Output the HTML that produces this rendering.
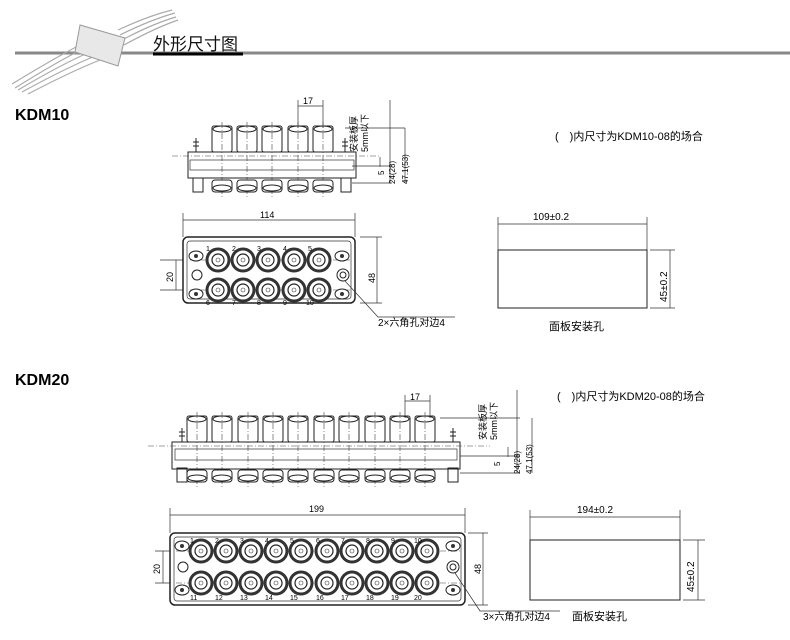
<!DOCTYPE html>
<html><head><meta charset="utf-8"><style>
body{margin:0;background:#fff;}
svg{display:block;font-family:"Liberation Sans","Noto Sans CJK SC",sans-serif;}
.l{stroke:#222;fill:none;stroke-width:1}
.t{stroke:#333;fill:none;stroke-width:.7}
.d{stroke:#444;fill:none;stroke-width:.6;stroke-dasharray:6 2 1 2}
</style></head><body>
<svg width="790" height="640" viewBox="0 0 790 640">
<defs>
<g id="fc"><circle r="11" fill="#fff" stroke="#333" stroke-width="3"/><circle r="6" fill="#fff" stroke="#222" stroke-width="1.2"/><circle r="2" fill="none" stroke="#444" stroke-width=".6"/></g>
<g id="tb"><rect x="-10" y="0" width="20" height="26" rx="2" fill="#fff" stroke="#222"/><ellipse cx="0" cy="3" rx="9" ry="3" fill="none" stroke="#222"/><line x1="0" y1="-4" x2="0" y2="72" class="d"/></g>
<g id="bt"><rect x="-10" y="0" width="20" height="12" rx="3" fill="#fff" stroke="#222"/><ellipse cx="0" cy="8" rx="9" ry="3" fill="none" stroke="#222"/></g>
<g id="sm"><ellipse rx="7" ry="5" fill="#fff" stroke="#222"/><circle r="2" fill="#333"/></g>
</defs>
<!-- header -->
<line x1="15" y1="53" x2="790" y2="53" stroke="#888" stroke-width="3"/>
<g stroke="#aaa" stroke-width="1.2" fill="none">
<path d="M15 88 Q60 60 85 48 M18 90 Q62 64 90 52 M22 92 Q66 68 95 56 M28 94 Q70 72 100 60 M12 84 Q58 56 82 44"/>
<path d="M120 35 Q150 20 175 13 M122 40 Q152 24 176 17 M118 30 Q148 16 172 10 M124 45 Q155 28 178 20"/>
</g>
<polygon points="80,25 125,38 118,66 75,52" fill="#e8e8e8" stroke="#999"/>
<text x="153" y="50" font-size="17" fill="#111">外形尺寸图</text>
<line x1="153" y1="54" x2="243" y2="54" stroke="#000" stroke-width="3"/>
<text x="15" y="120" font-size="16" font-weight="bold">KDM10</text>
<text x="15" y="385" font-size="16" font-weight="bold">KDM20</text>

<!-- KDM10 side -->
<g>
<use href="#tb" x="222" y="126"/><use href="#tb" x="247" y="126"/><use href="#tb" x="272" y="126"/><use href="#tb" x="298" y="126"/><use href="#tb" x="323" y="126"/>
<rect x="188" y="152" width="168" height="26" fill="#fff" class="l"/>
<rect x="190" y="160" width="164" height="10" class="t"/>
<line x1="172" y1="156" x2="380" y2="156" class="d"/>
<use href="#bt" x="222" y="180"/><use href="#bt" x="247" y="180"/><use href="#bt" x="272" y="180"/><use href="#bt" x="298" y="180"/><use href="#bt" x="323" y="180"/>
<rect x="193" y="178" width="10" height="14" class="l"/><rect x="341" y="178" width="10" height="14" class="l"/>
<path d="M196 138v14M193 142h6M193 146h6M345 138v14M342 142h6M342 146h6" class="l"/>
<path d="M298 100v28M323 100v28M298 106h25" class="t"/>
<text x="303" y="104" font-size="9">17</text>
<path d="M345 128h60M352 166h40M352 183h40M390 100v83M405 128v55M380 157v10" class="t"/>
<text font-size="9" transform="translate(357 152) rotate(-90)">安装板厚</text>
<text font-size="9" transform="translate(368 152) rotate(-90)">5mm以下</text>
<text font-size="8" transform="translate(384 175) rotate(-90)">5</text>
<text font-size="8" transform="translate(395 184) rotate(-90)">24(28)</text>
<text font-size="8" transform="translate(408 184) rotate(-90)">47.1(53)</text>
</g>
<text x="555" y="140" font-size="11">(　)内尺寸为KDM10-08的场合</text>

<!-- KDM10 front -->
<path d="M183 213v24M355 213v24M183 220h172M360 237h22M360 303h22M377 237v66M160 260h25M160 290h25M176 260v30" class="t"/>
<text x="260" y="218" font-size="9">114</text>
<text font-size="9" transform="translate(375 283) rotate(-90)">48</text>
<text font-size="9" transform="translate(173 282) rotate(-90)">20</text>
<rect x="183" y="237" width="172" height="66" rx="5" fill="#fff" stroke="#222" stroke-width="1.5"/>
<rect x="187" y="241" width="164" height="58" rx="3" class="t"/>
<line x1="190" y1="260" x2="350" y2="260" class="d"/><line x1="190" y1="290" x2="350" y2="290" class="d"/>
<use href="#fc" x="218" y="260"/><use href="#fc" x="243" y="260"/><use href="#fc" x="268" y="260"/><use href="#fc" x="294" y="260"/><use href="#fc" x="319" y="260"/>
<use href="#fc" x="218" y="290"/><use href="#fc" x="243" y="290"/><use href="#fc" x="268" y="290"/><use href="#fc" x="294" y="290"/><use href="#fc" x="319" y="290"/>
<use href="#sm" x="196" y="256"/><use href="#sm" x="196" y="294"/><use href="#sm" x="342" y="256"/><use href="#sm" x="342" y="294"/>
<circle cx="197" cy="275" r="5" class="l"/><circle cx="343" cy="275" r="6" class="l"/><circle cx="343" cy="275" r="3" class="l"/>
<g font-size="7"><text x="206" y="251">1</text><text x="232" y="251">2</text><text x="257" y="251">3</text><text x="283" y="251">4</text><text x="308" y="251">5</text>
<text x="206" y="305">6</text><text x="232" y="305">7</text><text x="257" y="305">8</text><text x="283" y="305">9</text><text x="306" y="305">10</text></g>
<path d="M345 281 L378 317 H455" class="t"/>
<text x="378" y="326" font-size="10">2×六角孔对边4</text>

<!-- KDM10 panel -->
<path d="M498 217v33M647 217v33M498 224h149M650 250h25M650 308h25M670 250v58" class="t"/>
<text x="533" y="220" font-size="10">109±0.2</text>
<text font-size="10" transform="translate(667 302) rotate(-90)">45±0.2</text>
<rect x="498" y="250" width="149" height="58" class="l"/>
<text x="549" y="330" font-size="11">面板安装孔</text>

<!-- KDM20 side -->
<g>
<use href="#tb" x="197" y="416"/><use href="#tb" x="222" y="416"/><use href="#tb" x="248" y="416"/><use href="#tb" x="273" y="416"/><use href="#tb" x="298" y="416"/><use href="#tb" x="324" y="416"/><use href="#tb" x="349" y="416"/><use href="#tb" x="375" y="416"/><use href="#tb" x="400" y="416"/><use href="#tb" x="425" y="416"/>
<rect x="172" y="442" width="288" height="27" fill="#fff" class="l"/>
<rect x="175" y="449" width="282" height="11" class="t"/>
<line x1="148" y1="446" x2="490" y2="446" class="d"/>
<use href="#bt" x="197" y="470"/><use href="#bt" x="222" y="470"/><use href="#bt" x="248" y="470"/><use href="#bt" x="273" y="470"/><use href="#bt" x="298" y="470"/><use href="#bt" x="324" y="470"/><use href="#bt" x="349" y="470"/><use href="#bt" x="375" y="470"/><use href="#bt" x="400" y="470"/><use href="#bt" x="425" y="470"/>
<rect x="177" y="468" width="10" height="14" class="l"/><rect x="448" y="468" width="10" height="14" class="l"/>
<path d="M182 428v14M179 432h6M179 436h6M453 428v14M450 432h6M450 436h6" class="l"/>
<path d="M405 395v23M430 395v23M405 401h25" class="t"/>
<text x="410" y="400" font-size="9">17</text>
<path d="M440 418h80M460 456h60M460 473h60M517 390v83M532 418v55M508 447v10" class="t"/>
<text font-size="9" transform="translate(486 440) rotate(-90)">安装板厚</text>
<text font-size="9" transform="translate(497 440) rotate(-90)">5mm以下</text>
<text font-size="8" transform="translate(500 466) rotate(-90)">5</text>
<text font-size="8" transform="translate(520 474) rotate(-90)">24(28)</text>
<text font-size="8" transform="translate(532 474) rotate(-90)">47.1(53)</text>
</g>
<text x="557" y="400" font-size="11">(　)内尺寸为KDM20-08的场合</text>

<!-- KDM20 front -->
<path d="M170 508v25M465 508v25M170 515h295M468 533h20M468 605h20M483 533v72M155 551h22M155 583h22M163 551v32" class="t"/>
<text x="309" y="512" font-size="9">199</text>
<text font-size="9" transform="translate(481 574) rotate(-90)">48</text>
<text font-size="9" transform="translate(160 574) rotate(-90)">20</text>
<rect x="170" y="533" width="295" height="72" rx="5" fill="#fff" stroke="#222" stroke-width="1.5"/>
<rect x="174" y="537" width="287" height="64" rx="3" class="t"/>
<line x1="176" y1="551" x2="460" y2="551" class="d"/><line x1="176" y1="583" x2="460" y2="583" class="d"/>
<use href="#fc" x="201" y="551"/><use href="#fc" x="226" y="551"/><use href="#fc" x="251" y="551"/><use href="#fc" x="276" y="551"/><use href="#fc" x="301" y="551"/><use href="#fc" x="327" y="551"/><use href="#fc" x="352" y="551"/><use href="#fc" x="377" y="551"/><use href="#fc" x="402" y="551"/><use href="#fc" x="427" y="551"/>
<use href="#fc" x="201" y="583"/><use href="#fc" x="226" y="583"/><use href="#fc" x="251" y="583"/><use href="#fc" x="276" y="583"/><use href="#fc" x="301" y="583"/><use href="#fc" x="327" y="583"/><use href="#fc" x="352" y="583"/><use href="#fc" x="377" y="583"/><use href="#fc" x="402" y="583"/><use href="#fc" x="427" y="583"/>
<use href="#sm" x="182" y="546"/><use href="#sm" x="182" y="590"/><use href="#sm" x="453" y="546"/><use href="#sm" x="453" y="590"/>
<circle cx="183" cy="567" r="5" class="l"/><circle cx="453" cy="567" r="6" class="l"/><circle cx="453" cy="567" r="3" class="l"/>
<g font-size="7"><text x="190" y="543">1</text><text x="215" y="543">2</text><text x="240" y="543">3</text><text x="265" y="543">4</text><text x="290" y="543">5</text><text x="316" y="543">6</text><text x="341" y="543">7</text><text x="366" y="543">8</text><text x="391" y="543">9</text><text x="414" y="543">10</text>
<text x="190" y="600">11</text><text x="215" y="600">12</text><text x="240" y="600">13</text><text x="265" y="600">14</text><text x="290" y="600">15</text><text x="316" y="600">16</text><text x="341" y="600">17</text><text x="366" y="600">18</text><text x="391" y="600">19</text><text x="414" y="600">20</text></g>
<path d="M455 573 L480 611 H560" class="t"/>
<text x="483" y="620" font-size="10">3×六角孔对边4</text>

<!-- KDM20 panel -->
<path d="M530 510v30M680 510v30M530 517h150M683 540h22M683 600h22M698 540v60" class="t"/>
<text x="577" y="513" font-size="10">194±0.2</text>
<text font-size="10" transform="translate(694 592) rotate(-90)">45±0.2</text>
<rect x="530" y="540" width="150" height="60" class="l"/>
<text x="572" y="620" font-size="11">面板安装孔</text>
</svg>
</body></html>
